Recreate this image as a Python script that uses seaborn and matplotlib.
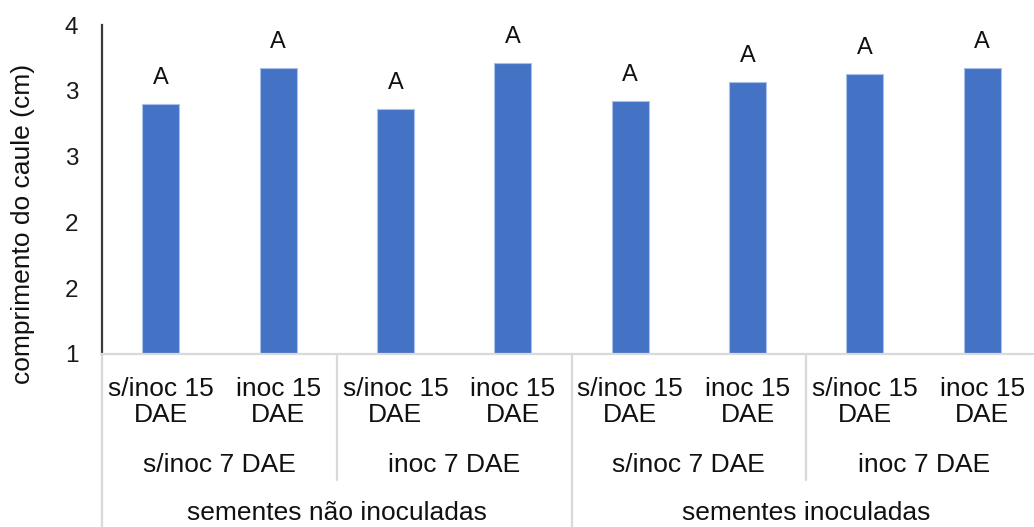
import numpy as np
import pandas as pd
import matplotlib
matplotlib.use("Agg")
import matplotlib.pyplot as plt
import matplotlib.transforms as mtransforms
from matplotlib.ticker import FuncFormatter
import seaborn as sns

# Treatment levels (innermost to outermost) and mean stem length
tratamento_15 = ["s/inoc 15\nDAE", "inoc 15\nDAE"] * 4
tratamento_7 = ["s/inoc 7 DAE", "inoc 7 DAE", "s/inoc 7 DAE", "inoc 7 DAE"]
sementes = ["sementes não inoculadas", "sementes inoculadas"]
comprimento = [2.90, 3.17, 2.86, 3.21, 2.92, 3.07, 3.13, 3.17]
letras = ["A", "A", "A", "A", "A", "A", "A", "A"]
y_ticks = [1.0, 1.5, 2.0, 2.5, 3.0, 3.5]

sns.set_theme(style="white")
plt.rcParams["font.family"] = ["Liberation Sans", "DejaVu Sans"]

df = pd.DataFrame({"grupo": [str(i) for i in range(len(comprimento))],
                   "comprimento": comprimento})

W, H, DPI = 1034, 527, 100
fig = plt.figure(figsize=(W / DPI, H / DPI), dpi=DPI)
ax_left, ax_right, ax_top, ax_bottom = 102, 1041, 25, 354
ax = fig.add_axes([ax_left / W, (H - ax_bottom) / H,
                   (ax_right - ax_left) / W, (ax_bottom - ax_top) / H])

sns.barplot(data=df, x="grupo", y="comprimento", color="#4472C4",
            width=0.315, saturation=1, edgecolor="#a9c1ea", linewidth=0.8, ax=ax)

ax.set_xlim(-0.5, len(comprimento) - 0.5)
ax.set_ylim(y_ticks[0], y_ticks[-1])
ax.set_yticks(y_ticks)
ax.yaxis.set_major_formatter(FuncFormatter(lambda v, p: f"{int(np.floor(v + 0.5))}"))
ax.tick_params(axis="y", length=0, pad=17, labelsize=17.5, labelcolor="#1a1a1a")
ax.set_xticks([])
ax.set_xlabel("")
ax.set_ylabel("")

for side in ["top", "right"]:
    ax.spines[side].set_visible(False)
ax.spines["left"].set_color("#3a3a3a")
ax.spines["left"].set_linewidth(1.6)
ax.spines["bottom"].set_color("#d9d9d9")
ax.spines["bottom"].set_linewidth(1.6)

px = 72 / DPI  # points per pixel

# Significance letters above bars
for i, (v, l) in enumerate(zip(comprimento, letras)):
    ax.annotate(l, xy=(i, v), xytext=(0, 26 * px), textcoords="offset points",
                ha="center", va="center", fontsize=17, color="#111111")

trans = mtransforms.blended_transform_factory(ax.transData, ax.transAxes)
h_ax = ax_bottom - ax_top


def yfrac(ypix):
    return (ax_bottom - ypix) / h_ax


# Hierarchical category labels
for i, lab in enumerate(tratamento_15):
    ax.text(i, yfrac(402), lab, transform=trans, ha="center", va="center",
            fontsize=19, linespacing=1.08, color="#111111")
for j, lab in enumerate(tratamento_7):
    ax.text(2 * j + 0.5, yfrac(465), lab, transform=trans, ha="center",
            va="center", fontsize=19, color="#111111")
for k, lab in enumerate(sementes):
    ax.text(4 * k + 1.5, yfrac(513), lab, transform=trans, ha="center",
            va="center", fontsize=19, color="#111111")

# Divider lines between category groups
div_color = "#d9d9d9"
for xb in [1.5, 5.5]:
    ax.plot([xb, xb], [0, yfrac(480)], transform=trans, color=div_color,
            lw=1.6, clip_on=False)
for xb in [-0.5, 3.5, 7.5]:
    ax.plot([xb, xb], [0, yfrac(530)], transform=trans, color=div_color,
            lw=1.6, clip_on=False)

fig.text(23 / W, 1 - 224 / H, "comprimento do caule (cm)", rotation=90,
         ha="center", va="center", fontsize=19, color="#111111")

fig.savefig("out.png", dpi=DPI, facecolor="white")
